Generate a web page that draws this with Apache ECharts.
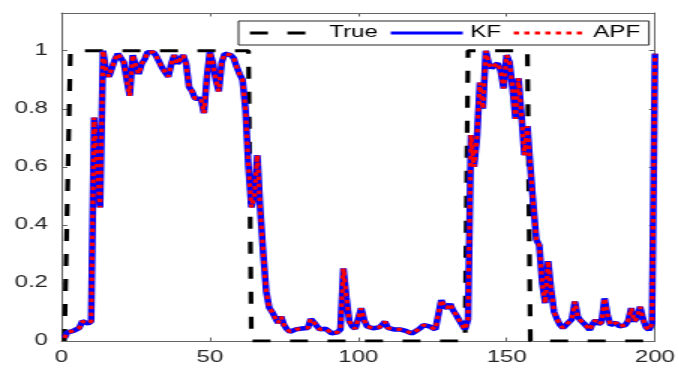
<!DOCTYPE html>
<html>
<head>
<meta charset="utf-8">
<script src="https://cdn.jsdelivr.net/npm/echarts@6/dist/echarts.min.js"></script>
<style>
  html, body { margin: 0; padding: 0; background: #fff; overflow: hidden; }
  /* the reference figure is a MATLAB plot stretched ~1.5x horizontally */
  #chart { width: 453px; height: 369px; transform: scaleX(1.5); transform-origin: 0 0; }
</style>
</head>
<body>
<div id="chart"></div>
<script>
// time index k = 1..200
const steps = Array.from({ length: 200 }, (_, i) => i + 1);

// true state, corner points of the 0/1 signal
const trueX = [1, 2, 3, 63, 64, 136, 137, 157, 158, 200];
const trueY = [0, 0, 1, 1, 0, 0, 1, 1, 0, 0];

// KF estimate
const kfEst = [
  0.01, 0.03, 0.035, 0.035, 0.032, 0.045, 0.068, 0.065, 0.06, 0.068,
  0.77, 0.6, 0.46, 1.0, 0.93, 0.91, 0.905, 0.97, 0.99, 0.975,
  0.96, 0.9, 0.845, 0.985, 0.95, 0.92, 0.955, 0.97, 0.995, 0.99,
  0.995, 0.98, 0.96, 0.94, 0.925, 0.91, 0.955, 0.985, 0.955, 0.97,
  0.985, 0.955, 0.875, 0.86, 0.835, 0.84, 0.835, 0.785, 0.91, 0.995,
  0.96, 0.9, 0.86, 0.96, 0.99, 0.995, 0.985, 0.975, 0.945, 0.92,
  0.9, 0.8, 0.6, 0.46, 0.5, 0.64, 0.45, 0.3, 0.17, 0.115,
  0.1, 0.08, 0.062, 0.084, 0.055, 0.04, 0.032, 0.035, 0.04, 0.044,
  0.043, 0.04, 0.045, 0.076, 0.065, 0.052, 0.04, 0.038, 0.042, 0.035,
  0.026, 0.024, 0.03, 0.04, 0.25, 0.15, 0.068, 0.05, 0.042, 0.04,
  0.113, 0.072, 0.05, 0.044, 0.044, 0.045, 0.047, 0.055, 0.067, 0.045,
  0.042, 0.04, 0.042, 0.04, 0.046, 0.035, 0.032, 0.026, 0.024, 0.038,
  0.045, 0.055, 0.061, 0.05, 0.044, 0.04, 0.038, 0.141, 0.12, 0.113,
  0.128, 0.105, 0.09, 0.072, 0.055, 0.04, 0.075, 0.71, 0.6, 0.7,
  0.89, 0.8, 1.0, 0.955, 0.94, 0.95, 0.957, 0.93, 0.87, 0.985,
  0.96, 0.87, 0.765, 0.905, 0.78, 0.64, 0.74, 0.6, 0.47, 0.35,
  0.33, 0.2, 0.13, 0.275, 0.176, 0.1, 0.075, 0.055, 0.045, 0.04,
  0.065, 0.075, 0.136, 0.084, 0.07, 0.061, 0.05, 0.038, 0.06, 0.072,
  0.058, 0.065, 0.147, 0.09, 0.055, 0.052, 0.063, 0.05, 0.046, 0.055,
  0.07, 0.113, 0.067, 0.08, 0.118, 0.075, 0.047, 0.038, 0.06, 0.99
];
// APF estimate lies on top of the KF one everywhere at this scale
const apfEst = kfEst.slice();

const xTicks = [0, 50, 100, 150, 200];
const yTicks = [0, 0.2, 0.4, 0.6, 0.8, 1];
const yTop = 1.13;

const chart = echarts.init(document.getElementById('chart'));

const font = 'Liberation Sans, Arial, Helvetica, sans-serif';
const frame = '#666';

const xBase = {
  type: 'value',
  min: xTicks[0],
  max: xTicks[xTicks.length - 1],
  interval: xTicks[1] - xTicks[0],
  splitLine: { show: false },
  axisLine: { show: true, onZero: false, lineStyle: { color: frame, width: 1 } },
  axisTick: { show: true, inside: true, length: 3.5, lineStyle: { color: frame } },
};
const yBase = {
  type: 'value',
  min: yTicks[0],
  max: yTop,
  interval: yTicks[1] - yTicks[0],
  splitLine: { show: false },
  axisLine: { show: true, onZero: false, lineStyle: { color: frame, width: 1 } },
  axisTick: { show: true, inside: true, length: 4, lineStyle: { color: frame } },
};

const option = {
  animation: false,
  backgroundColor: '#fff',
  grid: { left: 41, right: 16, top: 13, bottom: 28, containLabel: false },
  xAxis: [
    Object.assign({}, xBase, {
      position: 'bottom',
      axisLabel: { margin: 9, color: '#262626', fontFamily: font, fontSize: 16 },
    }),
    Object.assign({}, xBase, { position: 'top', axisLabel: { show: false } }),
  ],
  yAxis: [
    Object.assign({}, yBase, {
      position: 'left',
      axisLabel: { margin: 9, color: '#262626', fontFamily: font, fontSize: 16, showMaxLabel: false },
    }),
    Object.assign({}, yBase, { position: 'right', axisLabel: { show: false } }),
  ],
  legend: {
    left: 159,
    top: 21,
    padding: [4, 6, 4, 6],
    itemWidth: 48,
    itemHeight: 14,
    itemGap: 7,
    backgroundColor: '#fff',
    borderColor: '#262626',
    borderWidth: 1,
    borderRadius: 0,
    itemStyle: { opacity: 0 },
    textStyle: { fontFamily: font, fontSize: 16, color: '#000' },
    data: [
      { name: 'True', lineStyle: { width: 3.2 } },
      { name: 'KF', lineStyle: { width: 3.2 } },
      { name: 'APF', lineStyle: { width: 3.2 } },
    ],
  },
  series: [
    {
      name: 'True',
      type: 'line',
      symbol: 'none',
      data: trueX.map((x, i) => [x, trueY[i]]),
      lineStyle: { color: '#000', width: 3.2, type: [12, 13] },
      itemStyle: { color: '#000' },
      z: 2,
    },
    {
      name: 'KF',
      type: 'line',
      symbol: 'none',
      data: steps.map((k, i) => [k, kfEst[i]]),
      lineStyle: { color: '#0000ff', width: 4.5 },
      itemStyle: { color: '#0000ff' },
      z: 3,
    },
    {
      name: 'APF',
      type: 'line',
      symbol: 'none',
      data: steps.map((k, i) => [k, apfEst[i]]),
      lineStyle: { color: '#ff0000', width: 3.2, type: [3.5, 3.5] },
      itemStyle: { color: '#ff0000' },
      z: 4,
    },
  ],
};

chart.setOption(option);
</script>
</body>
</html>
